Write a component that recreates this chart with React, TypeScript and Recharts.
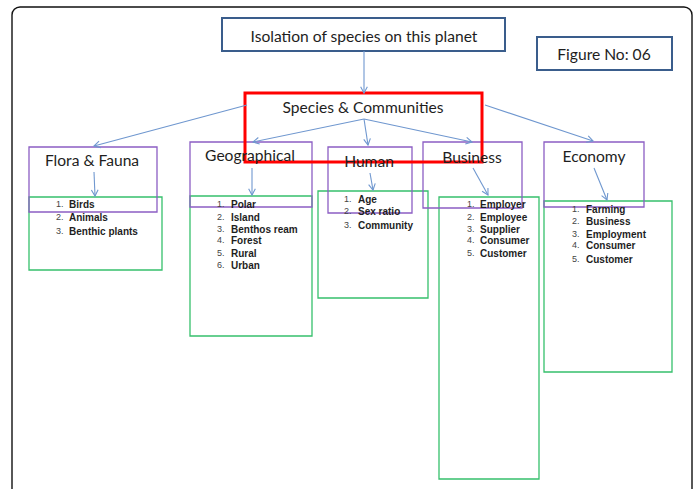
import { ComposedChart, XAxis, YAxis, ReferenceArea, ReferenceLine, Scatter } from "recharts";

const WIDTH = 697;
const HEIGHT = 489;

// top boxes: [x1, y1, x2, y2]
const titleBox = [222, 18, 505, 51];
const figureBox = [537, 37, 672, 70];
const hubBox = [245, 93, 482, 162];
const frameBox = [12, 7, 692, 520];

const titleTexts = ["Isolation of species on this planet", "Figure No: 06", "Species & Communities"];
const titleTextX = [364, 604, 363];
const titleTextY = [36, 54, 107];

const categories = ["Flora & Fauna", "Geographical", "Human", "Business", "Economy"];
const categoryLabelX = [92, 250, 369, 472, 594];
const categoryLabelY = [160, 155, 161, 157, 156];

const headerBoxes = [
  [29, 147, 157, 212],
  [190, 142, 312, 207],
  [328, 147, 412, 213],
  [423, 142, 522, 208],
  [544, 142, 644, 207],
];
const listBoxes = [
  [29, 197, 162, 270],
  [190, 196, 312, 336],
  [318, 191, 428, 298],
  [439, 197, 539, 479],
  [544, 201, 672, 372],
];

// arrows: [fromX, fromY, toX, toY]
const hubArrows = [
  [364, 51, 364, 93],
  [247, 105, 94, 146],
  [364, 119, 253, 142],
  [364, 119, 368, 145],
  [364, 119, 472, 142],
  [485, 105, 593, 141],
];
const innerArrows = [
  [94, 172, 95, 196],
  [252, 168, 252, 195],
  [370, 173, 373, 190],
  [473, 168, 488, 195],
  [594, 168, 607, 200],
];

const floraItems = ["Birds", "Animals", "Benthic plants"];
const geoItems = ["Polar", "Island", "Benthos ream", "Forest", "Rural", "Urban"];
const humanItems = ["Age", "Sex ratio", "Community"];
const businessItems = ["Employer", "Employee", "Supplier", "Consumer", "Customer"];
const economyItems = ["Farming", "Business", "Employment", "Consumer", "Customer"];
const listItems = [floraItems, geoItems, humanItems, businessItems, economyItems];
const listRowY = [
  [204, 217, 231],
  [204, 217, 229, 240, 253, 265],
  [199, 211, 225],
  [204, 217, 229, 240, 253],
  [209, 221, 234, 245, 259],
];
const listNumX = [56, 217, 344, 467, 572];
const listTextX = [69, 231, 358, 480, 586];

const headerPoints = [
  ...titleTexts.map((t, i) => ({ x: titleTextX[i], y: titleTextY[i], text: t })),
  ...categories.map((c, i) => ({ x: categoryLabelX[i], y: categoryLabelY[i], text: c })),
];
const itemPoints = listItems.flatMap((items, i) =>
  items.map((t, j) => ({ x: listTextX[i], y: listRowY[i][j], text: t }))
);
const numPoints = listItems.flatMap((items, i) =>
  items.map((_, j) => ({ x: listNumX[i], y: listRowY[i][j], text: `${j + 1}.` }))
);

const ARROW = "#6f97cf";
const PURPLE = "#8c5ec4";
const GREEN = "#36c06c";
const NAVY = "#3a5d8c";

function arrowShape(props: any) {
  const { x1, y1, x2, y2 } = props;
  const a = Math.atan2(y2 - y1, x2 - x1);
  const len = 7;
  const spread = 0.5;
  const p1 = `${x2 - len * Math.cos(a - spread)},${y2 - len * Math.sin(a - spread)}`;
  const p2 = `${x2 - len * Math.cos(a + spread)},${y2 - len * Math.sin(a + spread)}`;
  return (
    <g>
      <line x1={x1} y1={y1} x2={x2} y2={y2} stroke={ARROW} strokeWidth={1.1} />
      <polyline points={`${p1} ${x2},${y2} ${p2}`} fill="none" stroke={ARROW} strokeWidth={1.1} />
    </g>
  );
}

function frameShape(props: any) {
  const { x, y, width, height } = props;
  return <rect x={x} y={y} width={width} height={height} rx={8} fill="none" stroke="#111" strokeWidth={1.4} />;
}

const headerText = (p: any) => (
  <text x={p.cx} y={p.cy} textAnchor="middle" dominantBaseline="central" fontFamily="Lato" fontSize={15.6} fill="#1e1e1e">
    {p.payload.text}
  </text>
);
const itemText = (p: any) => (
  <text x={p.cx} y={p.cy} dominantBaseline="central" fontFamily="Liberation Sans" fontWeight="bold" fontSize={10} fill="#1e1e1e">
    {p.payload.text}
  </text>
);
const numText = (p: any) => (
  <text x={p.cx} y={p.cy} dominantBaseline="central" fontFamily="Liberation Sans" fontSize={9} fill="#444">
    {p.payload.text}
  </text>
);

const box = (b: number[], stroke: string, width: number, key: string) => (
  <ReferenceArea
    key={key}
    x1={b[0]}
    y1={b[1]}
    x2={b[2]}
    y2={b[3]}
    fill="none"
    fillOpacity={0}
    stroke={stroke}
    strokeWidth={width}
    strokeOpacity={1}
    ifOverflow="visible"
  />
);

export default function App() {
  return (
    <div>
      <style>{`body{margin:0;background:#fff}`}</style>
      <ComposedChart width={WIDTH} height={HEIGHT} margin={{ top: 0, right: 0, bottom: 0, left: 0 }}>
        <XAxis type="number" dataKey="x" domain={[0, WIDTH]} hide allowDataOverflow />
        <YAxis type="number" dataKey="y" domain={[0, HEIGHT]} reversed hide allowDataOverflow />
        <ReferenceArea
          x1={frameBox[0]}
          y1={frameBox[1]}
          x2={frameBox[2]}
          y2={frameBox[3]}
          ifOverflow="visible"
          shape={frameShape}
        />
        {box(titleBox, NAVY, 2, "title")}
        {box(figureBox, NAVY, 2, "figure")}
        {listBoxes.map((b, i) => box(b, GREEN, 1.3, `list-${i}`))}
        {headerBoxes.map((b, i) => box(b, PURPLE, 1.3, `head-${i}`))}
        {hubArrows.map((s, i) => (
          <ReferenceLine
            key={`hub-${i}`}
            segment={[{ x: s[0], y: s[1] }, { x: s[2], y: s[3] }]}
            ifOverflow="visible"
            shape={arrowShape}
          />
        ))}
        {innerArrows.map((s, i) => (
          <ReferenceLine
            key={`inner-${i}`}
            segment={[{ x: s[0], y: s[1] }, { x: s[2], y: s[3] }]}
            ifOverflow="visible"
            shape={arrowShape}
          />
        ))}
        {box(hubBox, "#ff0000", 3, "hub")}
        <Scatter data={headerPoints} shape={headerText} isAnimationActive={false} />
        <Scatter data={itemPoints} shape={itemText} isAnimationActive={false} />
        <Scatter data={numPoints} shape={numText} isAnimationActive={false} />
      </ComposedChart>
    </div>
  );
}
